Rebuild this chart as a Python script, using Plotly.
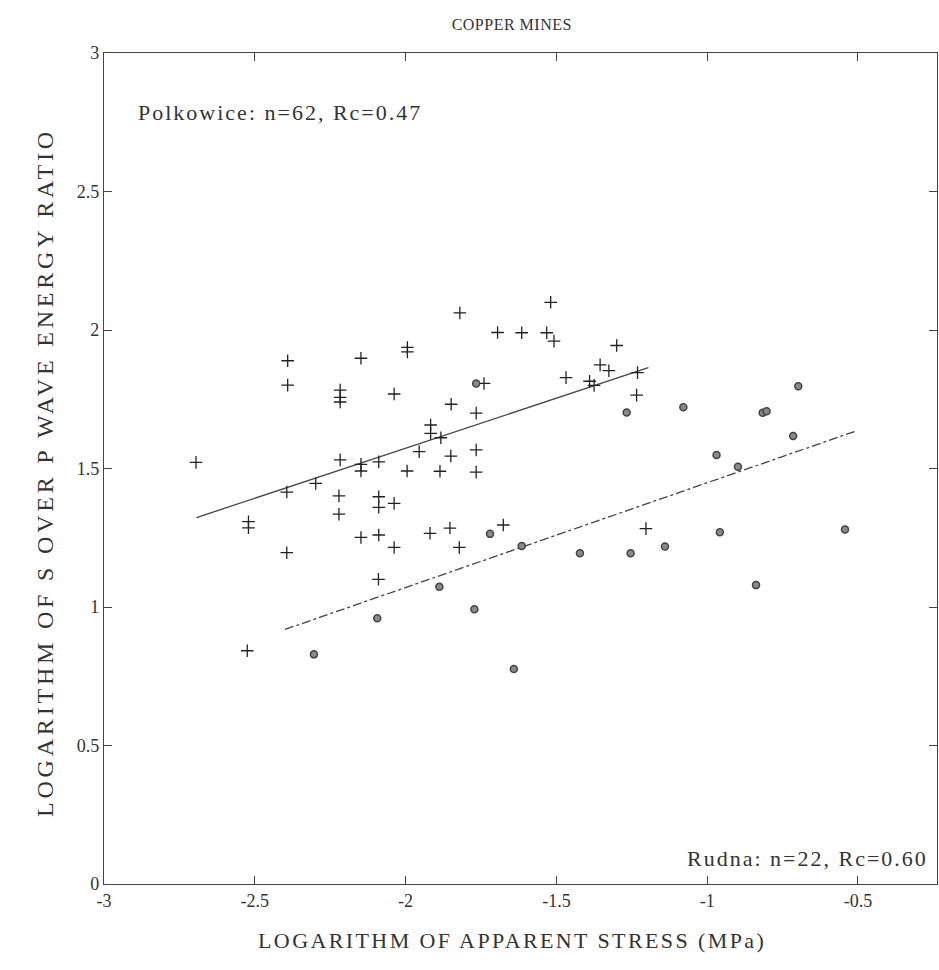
import plotly.graph_objects as go

# Polkowice (crosses)
polk_x = [-2.695, -2.391, -2.391, -2.148, -1.994, -1.994, -2.217, -2.217, -2.217, -2.038,
          -1.955, -2.217, -2.148, -2.148, -2.089, -1.995, -2.298, -2.394, -2.221, -2.221,
          -2.089, -2.089, -2.038, -2.521, -2.521, -2.148, -2.089, -2.038, -2.394, -1.820,
          -1.519, -1.695, -1.615, -1.532, -1.508, -1.300, -1.355, -1.326, -1.231, -1.468,
          -1.390, -1.375, -1.234, -1.740, -1.849, -1.766, -1.917, -1.917, -1.883, -1.850,
          -1.766, -1.886, -1.766, -1.919, -1.853, -1.822, -1.676, -1.203, -2.090, -2.525]
polk_y = [1.522, 1.889, 1.801, 1.898, 1.937, 1.921, 1.783, 1.757, 1.740, 1.769,
          1.561, 1.531, 1.515, 1.491, 1.524, 1.491, 1.446, 1.415, 1.401, 1.335,
          1.398, 1.360, 1.374, 1.308, 1.286, 1.251, 1.260, 1.215, 1.196, 2.062,
          2.100, 1.991, 1.990, 1.990, 1.960, 1.944, 1.874, 1.853, 1.846, 1.828,
          1.815, 1.800, 1.765, 1.807, 1.732, 1.700, 1.657, 1.627, 1.611, 1.545,
          1.567, 1.490, 1.487, 1.266, 1.285, 1.215, 1.296, 1.283, 1.100, 0.842]

# Rudna (circles)
rud_x = [-1.766, -1.267, -1.079, -0.969, -1.720, -1.615, -1.422, -1.254, -1.140, -0.958,
         -1.888, -2.094, -1.772, -2.304, -1.641, -0.698, -0.816, -0.803, -0.715, -0.898,
         -0.543, -0.838]
rud_y = [1.807, 1.702, 1.721, 1.549, 1.264, 1.220, 1.194, 1.194, 1.218, 1.270,
         1.073, 0.959, 0.992, 0.829, 0.776, 1.797, 1.701, 1.707, 1.617, 1.506,
         1.280, 1.079]

# Regression line endpoints
polk_fit_x = [-2.693, -1.195]
polk_fit_y = [1.323, 1.864]
rud_fit_x = [-2.400, -0.502]
rud_fit_y = [0.919, 1.637]

x_ticks = [-3, -2.5, -2, -1.5, -1, -0.5]
x_ticktext = ["-3", "-2.5", "-2", "-1.5", "-1", "-0.5"]
y_ticks = [0, 0.5, 1, 1.5, 2, 2.5, 3]
y_ticktext = ["0", "0.5", "1", "1.5", "2", "2.5", "3"]

FONT = "Liberation Serif, Times New Roman, DejaVu Serif, serif"
INK = "#333333"


def spaced(text, px):
    return f'<span style="letter-spacing:{px}px">{text}</span>'


fig = go.Figure()
fig.add_trace(go.Scatter(x=polk_fit_x, y=polk_fit_y, mode="lines",
                         line=dict(color="#444444", width=1.3), showlegend=False))
fig.add_trace(go.Scatter(x=rud_fit_x, y=rud_fit_y, mode="lines",
                         line=dict(color="#444444", width=1.3, dash="dashdot"), showlegend=False))
fig.add_trace(go.Scatter(x=polk_x, y=polk_y, mode="markers",
                         marker=dict(symbol="cross-thin", size=9,
                                     line=dict(color="#222222", width=1.3)),
                         showlegend=False))
fig.add_trace(go.Scatter(x=rud_x, y=rud_y, mode="markers",
                         marker=dict(symbol="circle", size=7, color="#8a8a8a",
                                     line=dict(color="#444444", width=1.5)),
                         showlegend=False))

fig.add_annotation(x=0.038, y=0.929, xref="paper", yref="paper", xanchor="left", yanchor="middle",
                   text=spaced("Polkowice: n=62, Rc=0.47", 2), showarrow=False,
                   font=dict(family=FONT, size=22, color=INK))
fig.add_annotation(x=0.992, y=0.031, xref="paper", yref="paper", xanchor="right", yanchor="middle",
                   text=spaced("Rudna: n=22, Rc=0.60", 2), showarrow=False,
                   font=dict(family=FONT, size=22, color=INK))
# axis titles
fig.add_annotation(x=0.49, y=-0.0674, xref="paper", yref="paper", xanchor="center", yanchor="middle",
                   text=spaced("LOGARITHM OF APPARENT STRESS (MPa)", 2.4), showarrow=False,
                   font=dict(family=FONT, size=22, color=INK))
fig.add_annotation(x=-0.0708, y=0.4946, xref="paper", yref="paper", xanchor="center", yanchor="middle",
                   text=spaced("LOGARITHM OF S OVER P WAVE ENERGY RATIO", 3.8), showarrow=False,
                   textangle=-90, font=dict(family=FONT, size=24, color=INK))

axis_common = dict(showgrid=False, zeroline=False, showline=True, linecolor="#444444",
                   linewidth=1.2, mirror="ticks", ticks="inside", ticklen=8,
                   tickcolor="#444444", tickfont=dict(family=FONT, size=18, color=INK))

fig.update_layout(
    width=939, height=970,
    margin=dict(l=104, r=2, t=53, b=86),
    paper_bgcolor="white", plot_bgcolor="white",
    title=dict(text=spaced("COPPER MINES", 0.5), x=0.545, xanchor="center", y=0.975, yanchor="middle",
               font=dict(family=FONT, size=16, color=INK)),
    xaxis=dict(range=[-3, -0.238], tickvals=x_ticks, ticktext=x_ticktext, **axis_common),
    yaxis=dict(range=[0, 3], tickvals=y_ticks, ticktext=y_ticktext, **axis_common),
)

fig.write_html("out.html")
